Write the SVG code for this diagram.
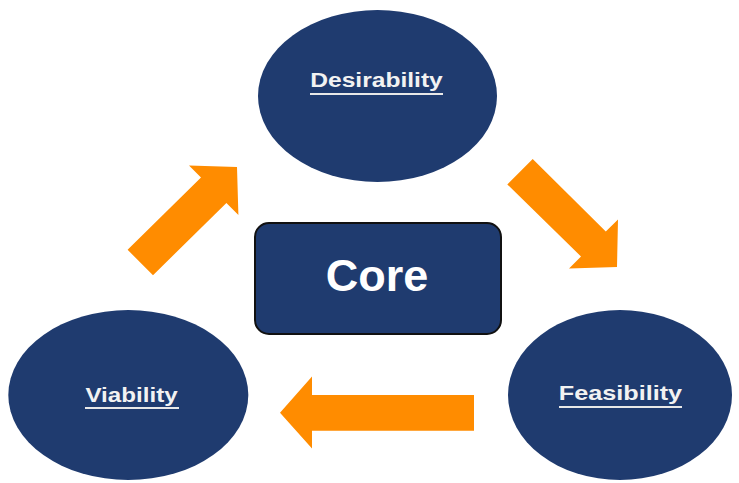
<svg xmlns="http://www.w3.org/2000/svg" width="739" height="483" viewBox="0 0 739 483">
<style>
.node{fill:#1f3b6f;}
.lbl{font-family:"Liberation Sans",Arial,sans-serif;font-weight:bold;font-size:20.5px;fill:#f2f2f2;text-anchor:middle;}
.ul{stroke:#e8e8e8;stroke-width:2;}
.arrow{fill:#ff8c00;}
</style>
<rect width="739" height="483" fill="#ffffff"/>
<g id="connectors">
<polygon class="arrow" points="127.6,249.8 201,177.6 189,165.6 237,167 238.4,215 226.4,203 153,275.2"/>
<polygon class="arrow" points="532.7,159 605.8,231.5 618,219.5 617,267 569,268.5 581,256.5 507.3,184.4"/>
<polygon class="arrow" points="474,395 312,395 312,376.5 280,412.7 312,448.5 312,430.7 474,430.7"/>
</g>
<g id="desirability">
<ellipse class="node" cx="377.5" cy="96" rx="119.5" ry="86"/>
<text class="lbl" transform="translate(376.5,87.3) scale(1.2,1)" x="0" y="0">Desirability</text>
<line class="ul" x1="310" y1="94" x2="443" y2="94"/>
</g>
<g id="viability">
<ellipse class="node" cx="128.3" cy="395" rx="120" ry="85"/>
<text class="lbl" transform="translate(131.5,401.7) scale(1.18,1)" x="0" y="0">Viability</text>
<line class="ul" x1="85" y1="408" x2="179" y2="408"/>
</g>
<g id="feasibility">
<ellipse class="node" cx="620" cy="395" rx="112" ry="85"/>
<text class="lbl" transform="translate(620.5,400) scale(1.23,1)" x="0" y="0">Feasibility</text>
<line class="ul" x1="559" y1="407" x2="682" y2="407"/>
</g>
<g id="core">
<rect class="node" x="255" y="223" width="246" height="111" rx="14" stroke="#111111" stroke-width="2"/>
<text x="377" y="291" font-family="'Liberation Sans',Arial,sans-serif" font-weight="bold" font-size="45" fill="#ffffff" text-anchor="middle">Core</text>
</g>
</svg>
